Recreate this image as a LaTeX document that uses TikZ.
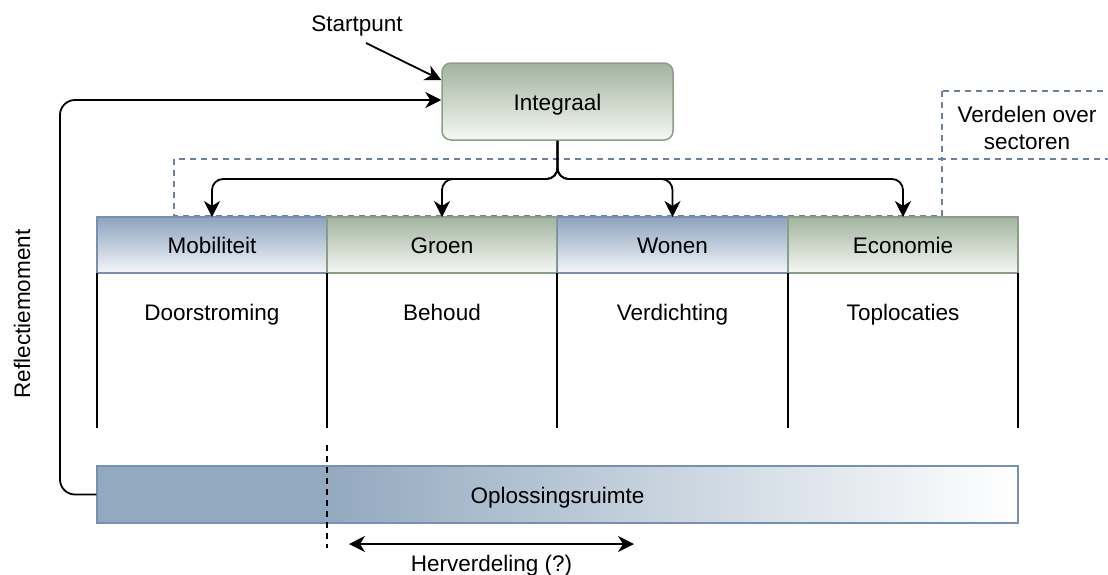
\documentclass[tikz,border=0pt]{standalone}
\usepackage{fontspec}
\setmainfont{Liberation Sans}
\usetikzlibrary{arrows.meta}
\definecolor{blueTop}{HTML}{8DA3BE}
\definecolor{blueBot}{HTML}{F4F6F9}
\definecolor{blueLine}{HTML}{7790AE}
\definecolor{greenTop}{HTML}{A1B49E}
\definecolor{greenBot}{HTML}{F6F8F5}
\definecolor{greenLine}{HTML}{8C9C89}
\definecolor{dashBlue}{HTML}{6E819C}
\definecolor{solveFill}{HTML}{93A9BF}
\begin{document}
\begin{tikzpicture}[x=1pt,y=-1pt,
  font=\fontsize{22.5}{27}\selectfont,
  conn/.style={line width=1.8pt,-{Stealth[length=16pt,width=16pt,inset=5pt]}},
  twoway/.style={line width=1.8pt,{Stealth[length=16pt,width=16pt,inset=5pt]}-{Stealth[length=16pt,width=16pt,inset=5pt]}},
  boxtext/.style={text height=19pt,text depth=2pt},
  sector/.style={minimum width=230pt,minimum height=56pt,inner sep=0pt,outer sep=0pt,line width=1.5pt,boxtext},
  bluecell/.style={sector,draw=blueLine,top color=blueTop,bottom color=blueBot},
  greencell/.style={sector,draw=greenLine,top color=greenTop,bottom color=greenBot},
  colline/.style={line width=1.6pt,black},
  guide/.style={draw=dashBlue,line width=1.5pt,dash pattern=on 6pt off 5pt},
  plain/.style={inner sep=0pt},
  coltext/.style={inner sep=0pt,anchor=base}
]
\useasboundingbox (0,0) rectangle (1108,574);
\clip (0,0) rectangle (1108,574);

% dashed grouping frames
\draw[guide] (174,159) rectangle (942,216);
\draw[guide] (942,91) rectangle (1125,159);
\node[plain,align=center] (verdelen) at (1027,128) {Verdelen over\\sectoren};

% top node
\node[draw=greenLine,line width=1.5pt,rounded corners=9pt,top color=greenTop,bottom color=greenBot,
      minimum width=231pt,minimum height=77pt,boxtext] (int) at (557.5,101.5) {Integraal};

% sector headers
\node[bluecell]  (mob) at (212,245)   {Mobiliteit};
\node[greencell] (gro) at (442,245)   {Groen};
\node[bluecell]  (won) at (672.5,245) {Wonen};
\node[greencell] (eco) at (903,245)   {Economie};

% column separators
\foreach \x in {97,327,557,788,1018}
  \draw[colline] (\x,273) -- (\x,428);

% column contents
\node[coltext] (doo) at (212,320)   {Doorstroming};
\node[coltext] (beh) at (442,320)   {Behoud};
\node[coltext] (ver) at (672.5,320) {Verdichting};
\node[coltext] (top) at (903,320)   {Toplocaties};

% solution space bar
\fill[solveFill] (97,466) rectangle (327,523);
\shade[left color=solveFill,right color=white] (327,466) rectangle (1018,523);
\node[draw=blueLine,line width=1.5pt,minimum width=921pt,minimum height=57pt,inner sep=0pt,boxtext]
  (opl) at (557.5,494.5) {Oplossingsruimte};

% divider and redistribution
\coordinate (divT) at (327,445);
\coordinate (divB) at (327,548);
\draw[line width=1.6pt,dash pattern=on 6pt off 5pt] (divT) -- (divB);
\coordinate (hvL) at (349,544);
\coordinate (hvR) at (634,544);
\draw[twoway] (hvL) -- (hvR);
\node[coltext] (herv) at (491.5,571) {Herverdeling (?)};

% distribution from the top node
\coordinate (hub) at (557,179);
\foreach \n in {mob,gro,won,eco}
  \draw[conn,rounded corners=11pt] (int.south) |- (\n.north |- hub) -- (\n.north);

% start arrow
\node[plain] (start) at (357,26) {Startpunt};
\coordinate (startTail) at (366,43);
\draw[conn] (startTail) -- (int.west |- 0,80);

% feedback loop
\node[plain,rotate=90] (refl) at (22,314) {Reflectiemoment};
\draw[conn,rounded corners=15pt] (opl.west) -| (60,100) -- (int.west |- 0,100);
\end{tikzpicture}
\end{document}
